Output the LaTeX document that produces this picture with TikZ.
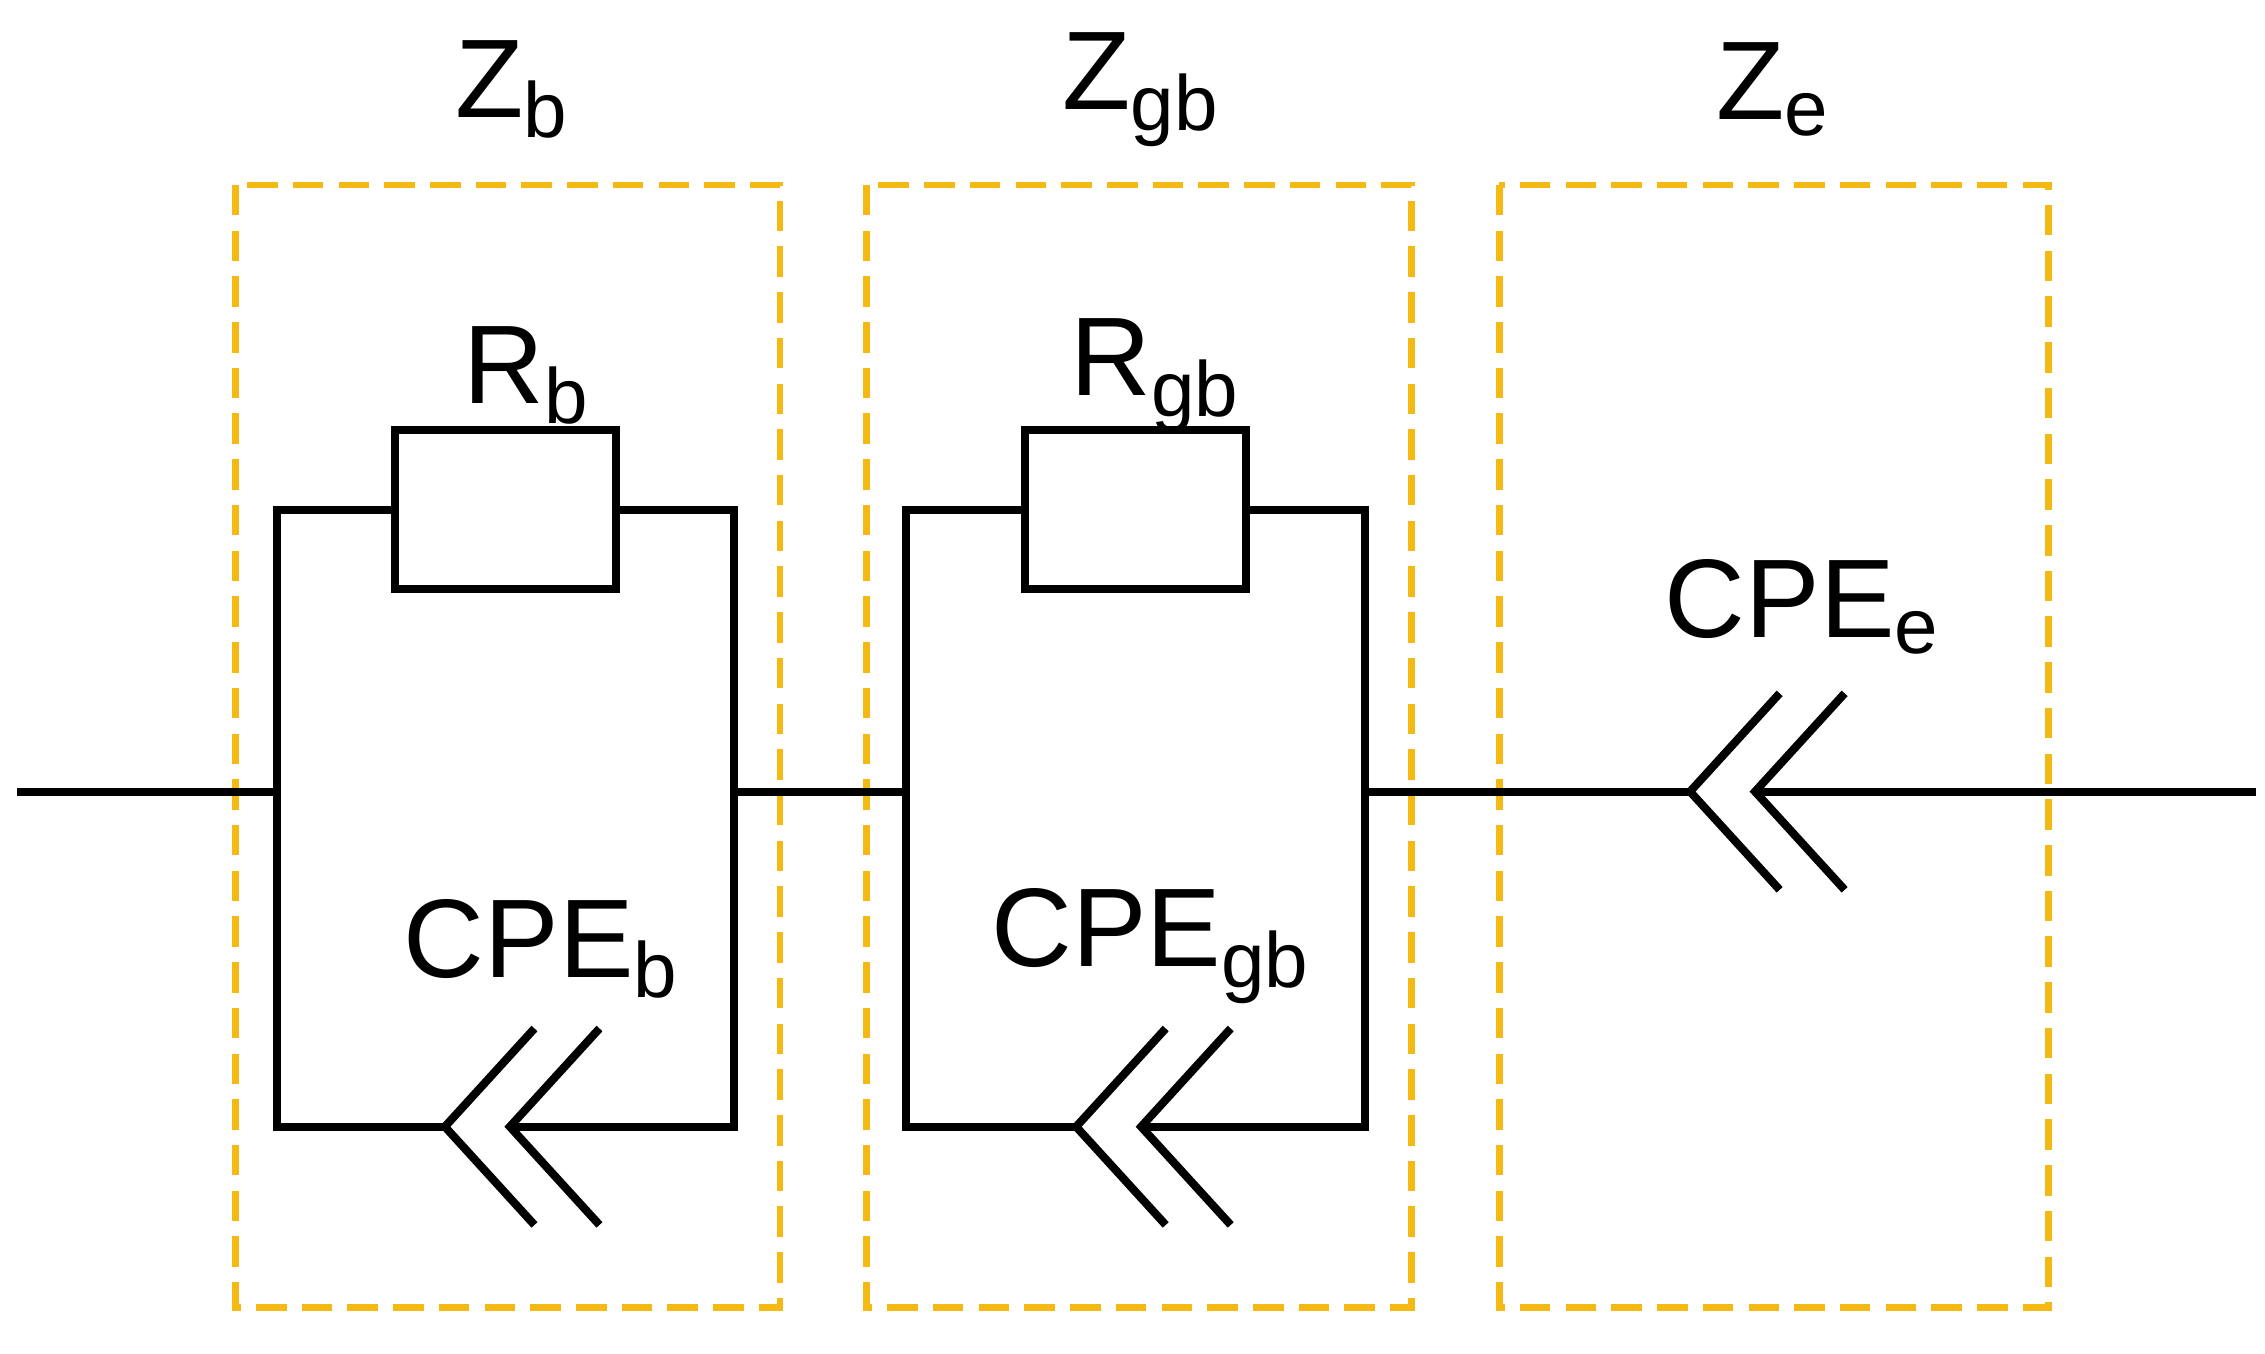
\documentclass[tikz,border=0pt]{standalone}
\usepackage{fontspec}
\setmainfont{Liberation Sans}
\definecolor{boxorange}{HTML}{F5B914}
\tikzset{
  wire/.style={line width=1.6pt},
  zbox/.style={draw=boxorange,line width=1.3pt,dash pattern=on 6pt off 3pt},
  res/.style={draw,line width=1.6pt,rectangle,minimum width=1.53cm,minimum height=1.1cm,inner sep=0pt},
  lab/.style={font=\fontsize{22}{26}\selectfont}
}
\newcommand{\cpe}[2]{% apex x, y
  \draw[wire] (#1+62,#2-68) -- (#1,#2) -- (#1+62,#2+68);
  \draw[wire] (#1+45+62,#2-68) -- (#1+45,#2) -- (#1+45+62,#2+68);
}
\begin{document}
\begin{tikzpicture}[x=0.01cm,y=-0.01cm]
\useasboundingbox (0,0) rectangle (1568,937);
% dashed boxes
\draw[zbox] (163,128) rectangle (540,905);
\draw[zbox] (600,128) rectangle (977,905);
\draw[zbox] (1038,128) rectangle (1418,905);
\node[lab] at (355,62) {Z\textsubscript{b}};
\node[lab] at (790,62) {Z\textsubscript{gb}};
\node[lab] at (1228,62) {Z\textsubscript{e}};

% bulk
\node[res] (rb) at (350,353) {};
\node[lab] at (365,260) {R\textsubscript{b}};
\draw[wire] (rb.west) -- (192,353) -- (192,780) -- (308,780);
\draw[wire] (rb.east) -- (508,353) -- (508,780) -- (353,780);
\cpe{308}{780}
\node[lab] at (375,657) {CPE\textsubscript{b}};

% grain boundary
\node[res] (rgb) at (786,353) {};
\node[lab] at (800,260) {R\textsubscript{gb}};
\draw[wire] (rgb.west) -- (627,353) -- (627,780) -- (745,780);
\draw[wire] (rgb.east) -- (945,353) -- (945,780) -- (790,780);
\cpe{745}{780}
\node[lab] at (797,655) {CPE\textsubscript{gb}};

% electrode
\node[lab] at (1248,420) {CPE\textsubscript{e}};
\cpe{1170}{548}
\draw[wire] (12,548) -- (192,548);
\draw[wire] (508,548) -- (627,548);
\draw[wire] (945,548) -- (1170,548);
\draw[wire] (1215,548) -- (1562,548);
\end{tikzpicture}
\end{document}
